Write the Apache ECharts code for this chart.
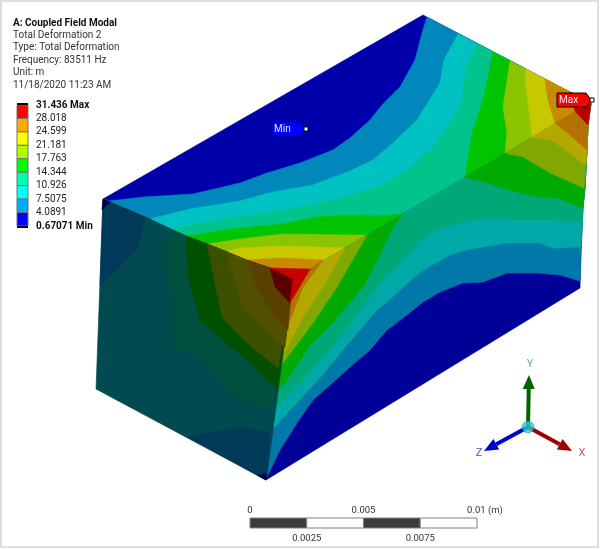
<![CDATA[<!DOCTYPE html>
<html>
<head>
<meta charset="utf-8">
<style>html,body{margin:0;padding:0;background:#fff}#chart{width:600px;height:549px}</style>
<script src="https://cdn.jsdelivr.net/npm/echarts@6/dist/echarts.min.js"></script>
</head>
<body>
<div id="chart"></div>
<script>
// header text and legend
const titleLines = ['Total Deformation 2', 'Type: Total Deformation', 'Frequency: 83511 Hz', 'Unit: m', '11/18/2020 11:23 AM'];
const legendValues = ['31.436', '28.018', '24.599', '21.181', '17.763', '14.344', '10.926', '7.5075', '4.0891', '0.67071'];
const legendColors = ['#ff0000', '#ffaa00', '#ffff00', '#aaff00', '#00ff00', '#00ffaa', '#00ffff', '#00aaff', '#0000ff'];

// band colours per face, lowest band first
const topColors = ['#0000aa', '#0088bd', '#00c2c2', '#00c48c', '#00c400', '#8cc400', '#c8c800', '#c88a00', '#c80000'];
const rightColors = ['#000098', '#0078a8', '#00a8a8', '#00a878', '#00aa00', '#80a800', '#b4a800', '#b47000', '#b40000'];
const leftColors = ['#000048', '#003a58', '#004a50', '#005040', '#005000', '#3c5000', '#505000', '#5a4000', '#5a0000'];

// box corners
const cornerA = [103, 199], cornerB = [423, 15], cornerR = [591, 103], cornerD = [580, 288];
const cornerE = [266, 480], cornerG = [96, 389];
const tipLeft = [270, 268], tipRight = [310, 269], tipLow = [290, 303], tipMid = [293, 279];
const rightEdge = [[588, 125], [587, 150], [585, 187], [583, 207], [581, 253]];
const ridgeLeft = [[246, 260], [227, 252], [207, 244], [186, 236], [150, 219]];

// top face contours
const topLevel1 = [[110, 201], [143, 197], [193, 194], [240, 183], [267, 173], [300, 163], [333, 150], [350, 138], [370, 120], [382, 105], [400, 87], [415, 60], [422, 33], [427, 17]];
const topLevel2 = [[150, 219], [190, 209], [240, 201], [273, 192], [313, 185], [350, 171], [373, 160], [393, 143], [417, 120], [440, 83], [444, 60], [458, 34]];
const topLevel3 = [[172, 230], [200, 223], [240, 217], [283, 210], [333, 200], [350, 195], [383, 185], [407, 170], [430, 150], [450, 123], [460, 107], [467, 67], [477, 44]];
const topLevel4a = [[186, 236], [240, 228], [283, 224], [317, 217], [350, 215], [377, 216], [403, 214]];
const topLevel4b = [[465, 177], [468, 157], [473, 130], [483, 100], [488, 77], [493, 52]];
const topLevel5a = [[207, 244], [240, 239], [283, 234], [347, 235], [367, 235]];
const topLevel5b = [[505, 153], [507, 133], [503, 107], [510, 61]];
const topLevel6a = [[227, 252], [240, 248], [283, 246], [345, 248]];
const topLevel6b = [[532, 137], [530, 117], [525, 80], [526, 69]];
const topLevel7a = [[246, 260], [283, 258], [323, 260]];
const topLevel7b = [[555, 123], [548, 100], [545, 79]];
const topLevel8b = [[575, 111], [570, 92]];

// right face contours
const rightLevel1 = [[267, 477], [280, 450], [297, 423], [313, 400], [338, 378], [350, 367], [370, 350], [387, 330], [407, 315], [423, 302], [440, 292], [463, 283], [483, 282], [507, 273], [537, 273], [560, 275], [580, 281]];
const rightLevel2 = [[270, 432], [303, 396], [318, 380], [347, 345], [377, 310], [397, 293], [413, 278], [428, 267], [450, 255], [470, 249], [507, 243], [540, 243], [553, 248], [581, 247]];
const rightLevel3 = [[273, 410], [303, 380], [330, 350], [353, 320], [380, 283], [400, 263], [417, 243], [433, 230], [463, 222], [490, 217], [517, 220], [553, 220], [582, 223]];
const rightLevel4a = [[277, 390], [287, 380], [312, 343], [335, 320], [363, 287], [377, 260], [393, 227], [403, 214]];
const rightLevel4b = [[465, 177], [487, 183], [510, 190], [537, 197], [557, 198], [583, 208]];
const rightLevel5a = [[280, 367], [313, 323], [337, 287], [367, 235]];
const rightLevel5b = [[505, 153], [523, 157], [550, 173], [584, 188]];
const rightLevel6a = [[282, 357], [303, 317], [323, 287], [345, 248]];
const rightLevel6b = [[532, 137], [553, 141], [586, 165]];
const rightLevel7a = [[287, 328], [303, 287], [323, 260]];
const rightLevel7b = [[555, 123], [570, 135], [587, 150]];
const rightLevel8b = [[575, 111], [588, 125]];

// left face contours
const leftPatchTop = [cornerA, [145, 217], [137, 250], [100, 285]];
const leftPatchLow = [[188, 437], [238, 427], [270, 432], [267, 474], cornerE];
const leftTipTop = [cornerA, [110, 202], [102, 210]];
const leftTipLow = [[257, 475], [267, 474], cornerE];
const leftLevel3 = [[172, 230], [163, 253], [173, 300], [173, 345], [202, 360], [228, 393], [273, 410]];
const leftLevel4 = [[186, 236], [188, 277], [200, 320], [223, 340], [247, 360], [277, 390]];
const leftLevel5 = [[207, 244], [215, 283], [222, 317], [247, 343], [278, 368]];
const leftLevel6 = [[227, 252], [238, 293], [243, 310], [270, 333], [285, 348]];
const leftLevel7 = [[246, 260], [258, 290], [275, 317], [288, 330]];
const leftLevel8 = [tipLeft, [275, 287], tipLow];

// triad and scale bar
const triadCenter = [528, 427];
const triadTips = [[529, 375], [484, 451], [572, 451]];
const triadColors = ['#006400', '#0000d0', '#a00000'];
const triadNames = ['Y', 'Z', 'X'];
const triadNameAt = [[530, 364], [479, 453], [582, 453]];
const triadNameColors = ['#70b080', '#5050c0', '#d06070'];
const scaleStops = [0, 0.0025, 0.005, 0.0075, 0.01];
const scaleLabels = ['0', '0.0025', '0.005', '0.0075', '0.01 (m)'];

const frontTop = [tipRight, tipLeft];
const frontRight = [tipRight, tipLow];
const frontLeft = [tipLow, tipMid, tipLeft];

const layers = [];
const add = (colors, band, pts) => layers.push({ color: colors[band], pts: pts });

// top face, lowest band first
add(topColors, 0, [cornerA, cornerB, cornerR, tipRight, tipLeft, ...ridgeLeft]);
add(topColors, 1, [cornerA, ...topLevel1, cornerR, tipRight, tipLeft, ...ridgeLeft]);
add(topColors, 2, [...topLevel2, cornerR, ...frontTop, ...ridgeLeft]);
add(topColors, 3, [...topLevel3, cornerR, ...frontTop, ...ridgeLeft.slice(0, 4)]);
add(topColors, 4, [...topLevel4a, ...frontTop, ...ridgeLeft.slice(0, 3)]);
add(topColors, 4, [...topLevel4b, cornerR]);
add(topColors, 5, [...topLevel5a, ...frontTop, ...ridgeLeft.slice(0, 2)]);
add(topColors, 5, [...topLevel5b, cornerR]);
add(topColors, 6, [...topLevel6a, ...frontTop, ...ridgeLeft.slice(0, 1)]);
add(topColors, 6, [...topLevel6b, cornerR]);
add(topColors, 7, [...topLevel7a, ...frontTop]);
add(topColors, 7, [...topLevel7b, cornerR]);
add(topColors, 8, [...topLevel8b, cornerR]);

// right face
add(rightColors, 0, [tipRight, cornerR, ...rightEdge, cornerD, cornerE, tipLow]);
add(rightColors, 1, [...rightLevel1, ...rightEdge.slice().reverse(), cornerR, ...frontRight]);
add(rightColors, 2, [...rightLevel2, ...rightEdge.slice(0, 4).reverse(), cornerR, ...frontRight]);
add(rightColors, 3, [...rightLevel3, ...rightEdge.slice(0, 4).reverse(), cornerR, ...frontRight]);
add(rightColors, 4, [...rightLevel4a, ...frontRight]);
add(rightColors, 4, [...rightLevel4b, ...rightEdge.slice(0, 3).reverse(), cornerR]);
add(rightColors, 5, [...rightLevel5a, ...frontRight]);
add(rightColors, 5, [...rightLevel5b, ...rightEdge.slice(0, 2).reverse(), cornerR]);
add(rightColors, 6, [...rightLevel6a, ...frontRight]);
add(rightColors, 6, [...rightLevel6b, ...rightEdge.slice(0, 2).reverse(), cornerR]);
add(rightColors, 7, [...rightLevel7a, ...frontRight]);
add(rightColors, 7, [...rightLevel7b, rightEdge[0], cornerR]);
add(rightColors, 8, [...rightLevel8b, cornerR]);

// left face
add(leftColors, 2, [cornerA, ...ridgeLeft.slice().reverse(), tipLeft, tipMid, tipLow, [267, 474], cornerE, cornerG]);
add(leftColors, 1, leftPatchTop);
add(leftColors, 1, leftPatchLow);
add(leftColors, 0, leftTipTop);
add(leftColors, 0, leftTipLow);
add(leftColors, 3, [...leftLevel3, ...frontLeft, ...ridgeLeft.slice(0, 4)]);
add(leftColors, 4, [...leftLevel4, ...frontLeft, ...ridgeLeft.slice(0, 3)]);
add(leftColors, 5, [...leftLevel5, ...frontLeft, ...ridgeLeft.slice(0, 2)]);
add(leftColors, 6, [...leftLevel6, ...frontLeft, ...ridgeLeft.slice(0, 1)]);
add(leftColors, 7, [...leftLevel7, ...frontLeft]);
add(leftColors, 8, [...leftLevel8, tipMid]);

// red corner on the lit side
add(topColors, 8, [tipLeft, tipRight, tipLow, tipMid]);

const font = 'Roboto, "Liberation Sans", sans-serif';

const chart = echarts.init(document.getElementById('chart'));

function polyItem(api, pts, color) {
  return {
    type: 'polygon',
    shape: { points: pts.map(p => api.coord(p)) },
    style: { fill: color, stroke: color, lineWidth: 0.6 }
  };
}

const option = {
  animation: false,
  backgroundColor: '#fff',
  graphic: [
    { type: 'rect', shape: { x: 1, y: 1, width: 597, height: 546 }, style: { fill: 'none', stroke: '#d4d4d4', lineWidth: 1.5 }, z: 0 }
  ],
  grid: [
    { left: 0, right: 0, top: 0, bottom: 0 },
    { left: 17, width: 11, top: 105, height: 121 },
    { left: 250, width: 227, top: 518, height: 10 }
  ],
  xAxis: [
    { type: 'value', gridIndex: 0, min: 0, max: 600, show: false },
    { type: 'value', gridIndex: 1, min: 0, max: 1, show: false },
    { type: 'value', gridIndex: 2, min: 0, max: 0.01, show: false }
  ],
  yAxis: [
    { type: 'value', gridIndex: 0, min: 0, max: 549, inverse: true, show: false },
    {
      type: 'category', gridIndex: 1, data: legendValues, inverse: true, boundaryGap: false, position: 'right',
      axisLine: { show: false }, axisTick: { show: false }, splitLine: { show: false },
      axisLabel: {
        show: true, interval: 0, margin: 8, fontFamily: font, fontSize: 10, color: '#222',
        formatter: (v, i) => i === 0 ? '{b|' + v + ' Max}' : i === legendValues.length - 1 ? '{b|' + v + ' Min}' : v,
        rich: { b: { fontFamily: font, fontSize: 10, fontWeight: 'bold', color: '#111' } }
      }
    },
    { type: 'value', gridIndex: 2, min: 0, max: 1, show: false }
  ],
  series: [
    {
      type: 'custom', xAxisIndex: 0, yAxisIndex: 0, coordinateSystem: 'cartesian2d', clip: false, silent: true, z: 2,
      data: layers.map((l, i) => [i]),
      renderItem: (params, api) => {
        const l = layers[api.value(0)];
        return polyItem(api, l.pts, l.color);
      }
    },
    {
      // legend swatches
      type: 'custom', xAxisIndex: 1, yAxisIndex: 1, clip: false, silent: true, z: 3,
      data: legendColors.map((c, i) => [i]),
      renderItem: (params, api) => {
        const i = api.value(0);
        const a = api.coord([0, i]), b = api.coord([1, i + 1]);
        const kids = [{
          type: 'rect',
          shape: { x: a[0], y: a[1], width: b[0] - a[0], height: b[1] - a[1] },
          style: { fill: legendColors[i], stroke: '#707070', lineWidth: 1 }
        }];
        if (i === 0) kids.push({ type: 'rect', shape: { x: a[0], y: a[1] - 2, width: b[0] - a[0], height: 2 }, style: { fill: '#000' } });
        if (i === legendColors.length - 1) kids.push({ type: 'rect', shape: { x: a[0], y: b[1], width: b[0] - a[0], height: 2 }, style: { fill: '#000' } });
        return { type: 'group', children: kids };
      }
    },
    {
      // scale bar
      type: 'custom', xAxisIndex: 2, yAxisIndex: 2, clip: false, silent: true, z: 3,
      data: scaleStops.slice(0, -1).map((s, i) => [s, scaleStops[i + 1], i]),
      renderItem: (params, api) => {
        const i = api.value(2);
        const a = api.coord([api.value(0), 1]), b = api.coord([api.value(1), 0]);
        const up = i % 2 === 0;
        const kids = [{
          type: 'rect',
          shape: { x: a[0], y: a[1], width: b[0] - a[0], height: b[1] - a[1] },
          style: { fill: up ? '#3c3c3c' : '#fff', stroke: '#808080', lineWidth: 1 }
        }, {
          type: 'text',
          style: {
            text: scaleLabels[i], x: a[0], y: i % 2 === 0 ? a[1] - 7 : b[1] + 11,
            align: 'center', verticalAlign: 'middle', font: '9.5px ' + font, fill: '#333'
          }
        }];
        if (i === 3) kids.push({
          type: 'text',
          style: { text: scaleLabels[4], x: b[0] + 8, y: a[1] - 7, align: 'center', verticalAlign: 'middle', font: '9.5px ' + font, fill: '#333' }
        });
        return { type: 'group', children: kids };
      }
    },
    {
      // triad arrows
      type: 'custom', xAxisIndex: 0, yAxisIndex: 0, clip: false, silent: true, z: 4,
      data: triadTips.map((t, i) => [t[0], t[1], i]),
      renderItem: (params, api) => {
        const i = api.value(2);
        const c = api.coord(triadCenter), t = api.coord([api.value(0), api.value(1)]);
        const dx = t[0] - c[0], dy = t[1] - c[1], len = Math.sqrt(dx * dx + dy * dy);
        const ux = dx / len, uy = dy / len;
        const bx = t[0] - ux * 14, by = t[1] - uy * 14;
        const nameAt = api.coord(triadNameAt[i]);
        return {
          type: 'group',
          children: [
            { type: 'line', shape: { x1: c[0], y1: c[1], x2: bx, y2: by }, style: { stroke: triadColors[i], lineWidth: 4 } },
            { type: 'polygon', shape: { points: [t, [bx - uy * 6, by + ux * 6], [bx + uy * 6, by - ux * 6]] }, style: { fill: triadColors[i] } },
            { type: 'text', style: { text: triadNames[i], x: nameAt[0], y: nameAt[1], align: 'center', verticalAlign: 'middle', font: '11px ' + font, fill: triadNameColors[i] } }
          ]
        };
      }
    },
    {
      // triad hub
      type: 'scatter', xAxisIndex: 0, yAxisIndex: 0, silent: true, z: 5, symbolSize: 12,
      data: [triadCenter],
      itemStyle: { color: '#2cc8d0', borderColor: '#0e8c94', borderWidth: 0.5 }
    },
    {
      // min and max flags
      type: 'custom', xAxisIndex: 0, yAxisIndex: 0, clip: false, silent: true, z: 6,
      data: [[272, 122, 28, 14], [557, 93, 29, 14]],
      renderItem: (params, api) => {
        const d = params.dataIndex === 0 ? ['#0000ff', 'Min'] : ['#ff0000', 'Max'];
        const p = api.coord([api.value(0), api.value(1)]);
        const w = api.value(2), h = api.value(3);
        const line = d[1] === 'Max' ? '#000' : '#0000aa';
        return {
          type: 'group',
          children: [
            { type: 'polygon', shape: { points: [p, [p[0] + w, p[1]], [p[0] + w + 5, p[1] + h / 2], [p[0] + w, p[1] + h], [p[0], p[1] + h]] }, style: { fill: d[0], stroke: line, lineWidth: 1 } },
            { type: 'rect', shape: { x: p[0] + w + 4, y: p[1] + h / 2 - 2, width: 4, height: 4 }, style: { fill: '#fff', stroke: '#000', lineWidth: 1 } },
            { type: 'text', style: { text: d[1], x: p[0] + 2, y: p[1] + h / 2, verticalAlign: 'middle', font: '10px ' + font, fill: '#e8e8ff' } }
          ]
        };
      }
    },
    {
      // header text
      type: 'custom', xAxisIndex: 0, yAxisIndex: 0, clip: false, silent: true, z: 6,
      data: ['A: Coupled Field Modal'].concat(titleLines).map((t, i) => [13, 23 + i * 12.4, i]),
      renderItem: (params, api) => {
        const i = api.value(2);
        const p = api.coord([api.value(0), api.value(1)]);
        const text = i === 0 ? 'A: Coupled Field Modal' : titleLines[i - 1];
        return {
          type: 'text',
          style: { text: text, x: p[0], y: p[1], verticalAlign: 'middle', font: (i === 0 ? 'bold ' : '') + '10px ' + font, fill: i === 0 ? '#111' : '#333' }
        };
      }
    }
  ]
};

chart.setOption(option);
</script>
</body>
</html>
]]>
